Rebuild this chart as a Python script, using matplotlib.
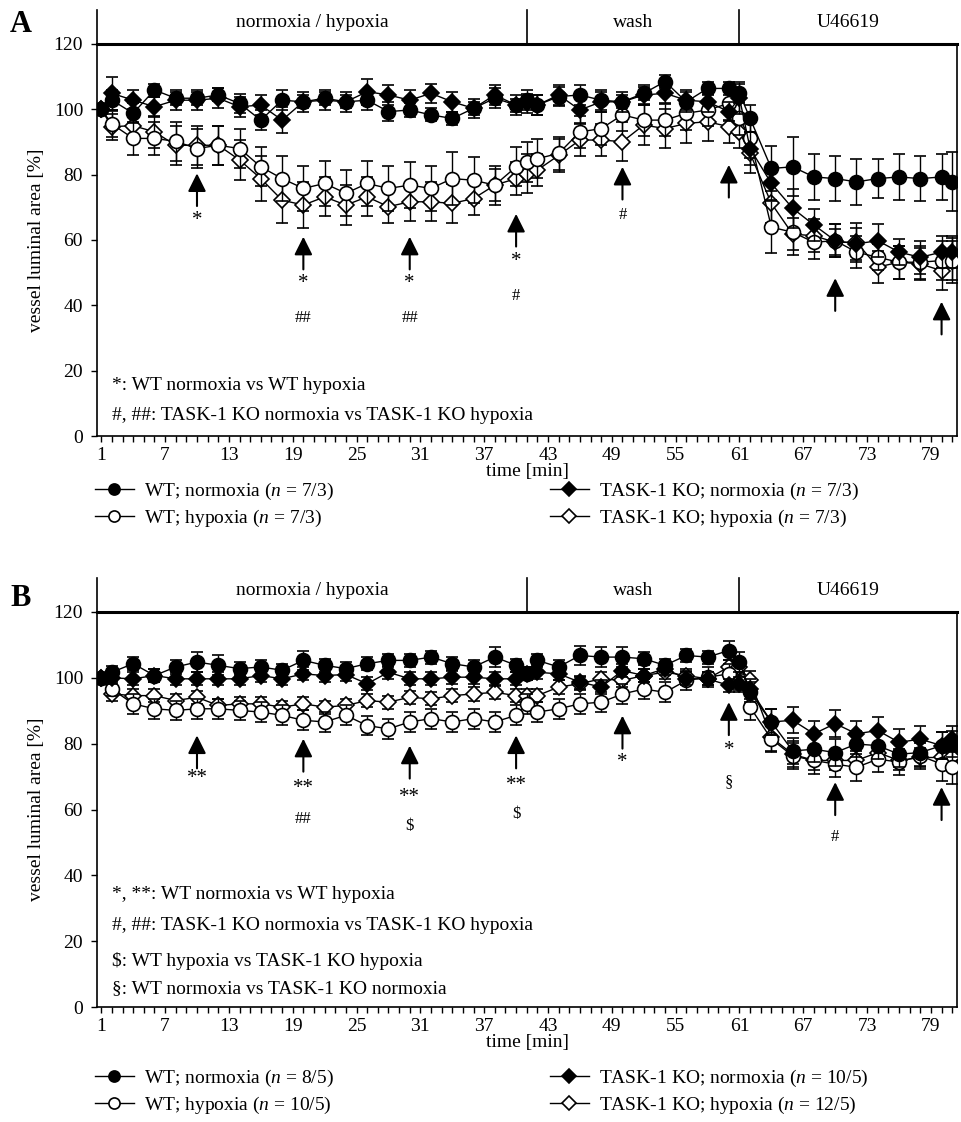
import matplotlib
matplotlib.use('Agg')
import matplotlib.pyplot as plt
from matplotlib.lines import Line2D
import matplotlib.transforms as mtrans

plt.rcParams['font.family'] = ['Liberation Serif', 'DejaVu Serif']
plt.rcParams['mathtext.fontset'] = 'custom'
plt.rcParams['mathtext.rm'] = 'Liberation Serif'
plt.rcParams['mathtext.it'] = 'Liberation Serif:italic'

# ---------------- data ----------------
time_min = [1, 2, 4, 6, 8, 10, 12, 14, 16, 18, 20, 22, 24, 26, 28, 30, 32, 34, 36, 38, 40,
            41, 42, 44, 46, 48, 50, 52, 54, 56, 58, 60,
            61, 62, 64, 66, 68, 70, 72, 74, 76, 78, 80, 81]
tick_labels = [1, 7, 13, 19, 25, 31, 37, 43, 49, 55, 61, 67, 73, 79]
phases = ['normoxia / hypoxia', 'wash', 'U46619']
phase_edges = [41, 61]

# Panel A
A_wt_norm = [100, 102.8, 98.8, 105.9, 103.4, 103.4, 104.4, 101.8, 96.7, 102.8, 102.3, 103.4, 102.3, 102.8, 99.3, 99.8, 98.3, 97.2, 100.3, 103.4, 101.3,
             102.8, 101.3, 103.9, 104.4, 102.8, 102.3, 104.9, 108.5, 102.3, 106.4, 106.4,
             104.9, 97.2, 81.9, 82.4, 79.3, 78.8, 77.8, 78.8, 79.3, 78.8, 79.3, 77.8]
A_wt_norm_err = [0, 3, 3, 2, 2, 2, 2, 3, 3, 3, 2, 2, 2, 3, 3, 2, 2, 2, 2, 3, 2,
                 3, 3, 3, 3, 3, 2, 2, 2, 3, 2, 2,
                 3, 4, 7, 9, 7, 7, 7, 6, 7, 7, 7, 9]
A_wt_hyp = [100, 95.5, 91.1, 91.1, 90.2, 88.0, 89.0, 88.0, 82.4, 78.8, 75.8, 77.3, 74.3, 77.3, 75.8, 76.8, 75.8, 78.8, 78.3, 76.8, 82.4,
            83.9, 84.9, 86.5, 93.1, 94.1, 98.3, 96.7, 96.7, 98.8, 99.8, 101.8,
            97.2, 91.1, 63.9, 62.4, 59.3, 59.8, 56.3, 54.7, 53.2, 53.2, 53.7, 53.7]
A_wt_hyp_err = [0, 4, 5, 5, 6, 6, 6, 6, 6, 7, 7, 7, 7, 7, 7, 7, 7, 8, 7, 6, 6,
                6, 6, 5, 5, 5, 5, 5, 5, 5, 5, 5,
                5, 6, 8, 7, 5, 5, 5, 4, 5, 5, 6, 6]
A_ko_norm = [100, 104.9, 102.8, 100.8, 102.8, 102.8, 103.4, 100.8, 101.3, 96.7, 102.3, 102.8, 102.3, 105.4, 104.4, 102.8, 104.9, 102.3, 100.3, 104.4, 101.3,
             101.8, 101.3, 104.4, 99.8, 102.3, 102.3, 104.4, 104.9, 102.8, 102.3, 99.3,
             103.5, 88.0, 77.3, 69.7, 64.6, 59.8, 58.8, 59.8, 56.3, 54.7, 56.3, 56.3]
A_ko_norm_err = [0, 5, 3, 3, 3, 3, 3, 3, 3, 4, 3, 3, 3, 4, 3, 3, 3, 3, 3, 3, 3,
                 3, 3, 3, 4, 3, 3, 3, 3, 3, 3, 3,
                 5, 5, 5, 6, 5, 5, 5, 5, 4, 5, 5, 5]
A_ko_hyp = [100, 94.7, 95.0, 93.1, 89.0, 89.0, 89.0, 84.5, 78.8, 72.2, 70.7, 73.2, 70.7, 73.2, 70.2, 71.7, 71.7, 71.2, 72.7, 76.8, 78.8,
            80.3, 81.4, 85.9, 90.6, 90.6, 90.1, 95.2, 94.1, 95.7, 96.2, 94.7,
            93.1, 86.5, 71.2, 61.8, 61.3, 59.3, 59.3, 51.7, 53.2, 52.7, 50.6, 53.7]
A_ko_hyp_err = [0, 4, 5, 5, 6, 6, 6, 6, 7, 7, 7, 6, 6, 6, 5, 6, 6, 6, 5, 5, 5,
                6, 5, 5, 5, 5, 6, 6, 6, 6, 6, 5,
                5, 6, 6, 5, 5, 4, 6, 5, 5, 5, 6, 7]

# Panel B
B_wt_norm = [100, 101.7, 104.3, 100.7, 103.3, 104.8, 103.8, 102.8, 103.3, 102.3, 105.3, 103.8, 102.8, 104.3, 105.3, 105.3, 106.3, 104.3, 103.3, 106.3, 103.8,
             101.2, 105.3, 103.3, 106.8, 106.3, 106.3, 105.8, 103.8, 106.8, 106.3, 108.3,
             104.8, 95.6, 86.6, 77.8, 78.3, 77.3, 79.9, 79.4, 76.8, 77.3, 79.4, 79.9]
B_wt_norm_err = [0, 2, 2, 2, 2, 3, 3, 2, 2, 2, 3, 2, 2, 2, 2, 2, 2, 2, 2, 3, 2,
                 2, 2, 2, 3, 3, 3, 2, 2, 2, 2, 3,
                 3, 3, 4, 4, 4, 4, 4, 4, 4, 4, 4, 4]
B_wt_hyp = [100, 96.6, 92.1, 90.6, 90.1, 90.6, 90.6, 90.1, 89.6, 88.6, 87.1, 86.6, 88.6, 85.5, 84.5, 86.6, 87.6, 86.6, 87.6, 86.6, 88.6,
            92.1, 89.6, 90.6, 92.1, 92.6, 95.1, 96.6, 95.6, 99.2, 100.2, 101.2,
            98.7, 91.1, 81.4, 76.3, 74.9, 73.8, 72.8, 75.3, 74.4, 76.3, 73.8, 72.8]
B_wt_hyp_err = [0, 2, 3, 3, 3, 3, 3, 3, 3, 3, 3, 3, 3, 3, 3, 3, 3, 3, 3, 3, 3,
                3, 3, 3, 3, 3, 3, 3, 3, 3, 3, 3,
                3, 4, 4, 4, 4, 4, 4, 4, 4, 4, 5, 5]
B_ko_norm = [100, 100, 99.7, 100.7, 99.7, 99.7, 99.7, 99.7, 100.7, 99.7, 101.2, 100.7, 101.0, 98.2, 101.7, 99.7, 99.7, 100.2, 100.2, 99.7, 99.7,
             101.2, 101.7, 101.2, 98.7, 97.2, 102.2, 100.7, 102.8, 99.7, 99.7, 97.7,
             98.2, 96.6, 86.6, 87.1, 83.0, 86.1, 83.0, 84.0, 80.4, 81.4, 79.4, 81.4]
B_ko_norm_err = [0, 2, 2, 2, 2, 2, 2, 2, 2, 2, 2, 2, 2, 2, 2, 2, 2, 2, 2, 2, 2,
                 2, 2, 2, 2, 2, 2, 2, 2, 2, 2, 2,
                 2, 3, 4, 4, 4, 4, 4, 4, 4, 4, 4, 4]
B_ko_hyp = [100, 95.1, 94.6, 94.6, 93.1, 94.1, 91.6, 92.1, 92.1, 91.1, 92.1, 91.1, 91.6, 93.1, 92.6, 94.1, 93.6, 94.6, 95.1, 95.6, 94.6,
            94.6, 94.6, 97.2, 98.2, 99.7, 99.2, 100.7, 101.7, 100.7, 99.7, 103.3,
            103.3, 99.2, 81.9, 76.8, 74.9, 74.9, 74.9, 77.3, 74.9, 75.8, 75.8, 75.8]
B_ko_hyp_err = [0, 2, 2, 2, 2, 2, 2, 2, 2, 2, 2, 2, 2, 2, 2, 2, 2, 2, 2, 2, 2,
                2, 2, 2, 2, 2, 2, 2, 2, 2, 2, 2,
                2, 3, 4, 4, 3, 3, 3, 3, 3, 3, 3, 3]

# arrows: time and arrow-head tip value
A_arrow_t = [10, 20, 30, 40, 50, 60, 70, 80]
A_arrow_tip = [80.4, 61, 61, 68, 82.4, 83, 48.3, 41.1]
B_arrow_t = [10, 20, 30, 40, 50, 60, 70, 80]
B_arrow_tip = [82.5, 81.5, 79.4, 82.5, 88.5, 92.6, 68.3, 66.8]

# significance marks: (time, symbol, value)
A_marks = [(10, '*', 66.1), (20, '*', 46.7), (30, '*', 46.7), (40, '*', 53.3),
           (20, '##', 36.0), (30, '##', 36.0), (40, '#', 42.9), (50, '#', 67.6)]
B_marks = [(10, '**', 69.3), (20, '**', 66.3), (30, '**', 63.7), (40, '**', 67.3),
           (50, '*', 74.4), (60, '*', 77.9),
           (20, '##', 57.1), (30, '\\$', 55.1), (40, '\\$', 58.7), (60, '§', 68.3), (70, '#', 51.6)]

A_notes = ['*: WT normoxia vs WT hypoxia',
           '#, ##: TASK-1 KO normoxia vs TASK-1 KO hypoxia']
A_note_y = [15.6, 6.4]
B_notes = ['*, **: WT normoxia vs WT hypoxia',
           '#, ##: TASK-1 KO normoxia vs TASK-1 KO hypoxia',
           '\\$: WT hypoxia vs TASK-1 KO hypoxia',
           '§: WT normoxia vs TASK-1 KO normoxia']
B_note_y = [34.3, 24.7, 14.1, 5.5]

A_n = ['7/3', '7/3', '7/3', '7/3']
B_n = ['8/5', '10/5', '10/5', '12/5']

# ---------------- drawing ----------------
W, H = 961, 1122
fig = plt.figure(figsize=(W / 100, H / 100), dpi=100)


def rect(l, r, t, b):
    return [l / W, 1 - b / H, (r - l) / W, (b - t) / H]


series_style = {
    'wt_norm': dict(marker='o', mfc='black', ms=10),
    'wt_hyp': dict(marker='o', mfc='white', ms=10),
    'ko_norm': dict(marker='D', mfc='black', ms=8.5),
    'ko_hyp': dict(marker='D', mfc='white', ms=8.5),
}


def draw_panel(ax, data, arrow_t, arrow_tip, marks, notes, note_y):
    order = ['ko_hyp', 'wt_hyp', 'ko_norm', 'wt_norm']
    for z, key in enumerate(order):
        y, e = data[key]
        st = series_style[key]
        ax.errorbar(time_min, y, yerr=e, fmt='-', color='black', lw=1.0,
                    elinewidth=1.0, capsize=4, capthick=1.0,
                    marker=st['marker'], ms=st['ms'], mfc=st['mfc'],
                    mec='black', mew=1.2, zorder=3 + z)
    ax.set_xlim(0.6, 81.45)
    ax.set_ylim(0, 120)
    ax.set_yticks([0, 20, 40, 60, 80, 100, 120])
    ax.set_xticks(tick_labels)
    ax.set_xticks(range(1, 82), minor=True)
    ax.set_xticklabels([str(v) for v in tick_labels])
    ax.tick_params(axis='both', which='both', direction='out', length=4,
                   width=1.0, labelsize=14, pad=6)
    ax.tick_params(axis='x', which='both', pad=4)
    for s in ['left', 'right', 'bottom']:
        ax.spines[s].set_linewidth(1.2)
    ax.spines['top'].set_linewidth(2.2)
    ax.set_ylabel('vessel luminal area [%]', fontsize=14, labelpad=6)
    ax.set_xlabel('time [min]', fontsize=14, labelpad=-1)

    # phase band above the axes
    trans = mtrans.blended_transform_factory(ax.transData, ax.transAxes)
    band_h = 34 / 392
    for xe in [0.6] + phase_edges:
        ax.plot([xe, xe], [1, 1 + band_h], color='black', lw=1.2,
                transform=trans, clip_on=False)
    centers = [(0.6 + phase_edges[0]) / 2, (phase_edges[0] + phase_edges[1]) / 2,
               (phase_edges[1] + 81.45) / 2]
    for c, lab in zip(centers, phases):
        ax.text(c, 1 + band_h * 0.62, lab, transform=trans, ha='center',
                va='center', fontsize=14)

    # arrows
    for t, tip in zip(arrow_t, arrow_tip):
        ax.annotate('', xy=(t, tip), xytext=(t, tip - 10),
                    arrowprops=dict(arrowstyle='-|>,head_length=1.0,head_width=0.5',
                                    mutation_scale=11, lw=1.5, color='black',
                                    shrinkA=0, shrinkB=0), zorder=10)
    for t, sym, v in marks:
        fs = 15 if '*' in sym else 12
        ax.text(t, v, sym, ha='center', va='center', fontsize=fs, zorder=10)
    for txt, yv in zip(notes, note_y):
        ax.text(2.0, yv, txt, ha='left', va='center', fontsize=14)


axA = fig.add_axes(rect(97, 957, 44, 436))
axB = fig.add_axes(rect(97, 957, 612, 1007))

draw_panel(axA, {'wt_norm': (A_wt_norm, A_wt_norm_err), 'wt_hyp': (A_wt_hyp, A_wt_hyp_err),
                 'ko_norm': (A_ko_norm, A_ko_norm_err), 'ko_hyp': (A_ko_hyp, A_ko_hyp_err)},
           A_arrow_t, A_arrow_tip, A_marks, A_notes, A_note_y)
draw_panel(axB, {'wt_norm': (B_wt_norm, B_wt_norm_err), 'wt_hyp': (B_wt_hyp, B_wt_hyp_err),
                 'ko_norm': (B_ko_norm, B_ko_norm_err), 'ko_hyp': (B_ko_hyp, B_ko_hyp_err)},
           B_arrow_t, B_arrow_tip, B_marks, B_notes, B_note_y)


def handle(key):
    st = series_style[key]
    return Line2D([], [], color='black', lw=1.0, marker=st['marker'], ms=st['ms'] * 0.8,
                  mfc=st['mfc'], mec='black', mew=1.2)


def legends(n, ytop):
    kw = dict(loc='upper left', frameon=False, fontsize=14, handlelength=2.0,
              handletextpad=0.5, labelspacing=0.3, borderpad=0, borderaxespad=0)
    fig.legend([handle('wt_norm'), handle('wt_hyp')],
               [f'WT; normoxia ($n$ = {n[0]})', f'WT; hypoxia ($n$ = {n[1]})'],
               bbox_to_anchor=(95 / W, 1 - ytop / H), **kw)
    fig.legend([handle('ko_norm'), handle('ko_hyp')],
               [f'TASK-1 KO; normoxia ($n$ = {n[2]})', f'TASK-1 KO; hypoxia ($n$ = {n[3]})'],
               bbox_to_anchor=(550 / W, 1 - ytop / H), **kw)


legends(A_n, 481)
legends(B_n, 1068)

fig.text(10 / W, 1 - 24 / H, 'A', fontsize=22, weight='bold', va='center')
fig.text(10 / W, 1 - 598 / H, 'B', fontsize=22, weight='bold', va='center')

fig.savefig('out.png', dpi=100)
